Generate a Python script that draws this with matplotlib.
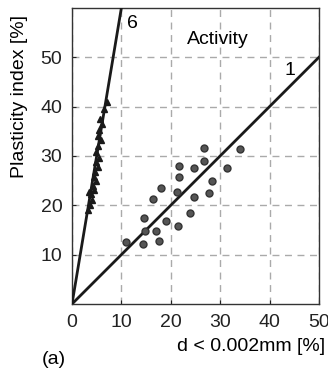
import matplotlib
matplotlib.use('Agg')
import matplotlib.pyplot as plt

plt.rcParams['font.family'] = ['Liberation Sans', 'DejaVu Sans']

# Triangles (activity ~6)
tri_x = [7.0, 6.4, 5.6, 6.1, 5.5, 5.3, 5.9, 5.2, 4.9, 5.4, 4.8, 5.2, 4.6, 4.4,
         4.9, 4.2, 4.5, 3.8, 3.4, 4.0, 3.6, 3.3]
tri_y = [41.0, 39.5, 37.5, 36.5, 35.3, 34.0, 33.2, 32.0, 30.8, 29.5, 28.7, 27.8,
         26.8, 25.8, 25.0, 24.0, 23.0, 22.2, 22.6, 21.0, 20.0, 19.0]

# Circles (activity ~1)
dot_x = [10.9, 14.4, 17.7, 14.8, 17.1, 14.6, 19.0, 21.5, 23.9, 16.3, 18.0,
         21.2, 21.7, 21.7, 24.7, 24.6, 26.7, 26.7, 28.4, 27.8, 31.3, 34.0]
dot_y = [12.6, 12.1, 12.8, 14.8, 14.8, 17.4, 16.8, 15.9, 18.4, 21.3, 23.5,
         22.7, 25.8, 27.9, 27.5, 21.6, 28.9, 31.7, 24.9, 22.4, 27.6, 31.3]

activities = [6, 1]
ticks_x = [0, 10, 20, 30, 40, 50]
ticks_y = [10, 20, 30, 40, 50]

fs = 14

fig = plt.figure(figsize=(3.28, 3.73), dpi=100)
ax = fig.add_axes([0.2195, 0.185, 0.753, 0.794])

ax.set_xlim(0, 50)
ax.set_ylim(0, 60)
for a in activities:
    ax.plot([0, 60 / a], [0, 60], color='#1a1a1a', linewidth=2, zorder=3)

ax.plot(tri_x, tri_y, linestyle='none', marker='^', markersize=5,
        color='#1a1a1a', zorder=4)
ax.plot(dot_x, dot_y, linestyle='none', marker='o', markersize=5,
        markerfacecolor='#555555', markeredgecolor='#333333', zorder=4)

ax.set_xticks(ticks_x)
ax.set_yticks(ticks_y)
ax.tick_params(direction='in', length=3, labelsize=fs, colors='#222222', pad=7)
ax.grid(True, linestyle=(0, (5, 4)), color='#aaaaaa', linewidth=1)
for s in ax.spines.values():
    s.set_color('#333333')
    s.set_linewidth(1)

ax.text(11.1, 56.9, '6', fontsize=fs, ha='left', va='center')
ax.text(43.1, 47.4, '1', fontsize=fs, ha='left', va='center')
ax.text(23.3, 53.6, 'Activity', fontsize=fs, ha='left', va='center')

fig.text(0.058, 0.74, 'Plasticity index [%]', fontsize=fs, rotation=90,
         ha='center', va='center')
fig.text(0.991, 0.070, 'd < 0.002mm [%]', fontsize=fs, ha='right', va='center')
fig.text(0.128, 0.035, '(a)', fontsize=fs, ha='left', va='center')

fig.savefig('out.png', dpi=100)
